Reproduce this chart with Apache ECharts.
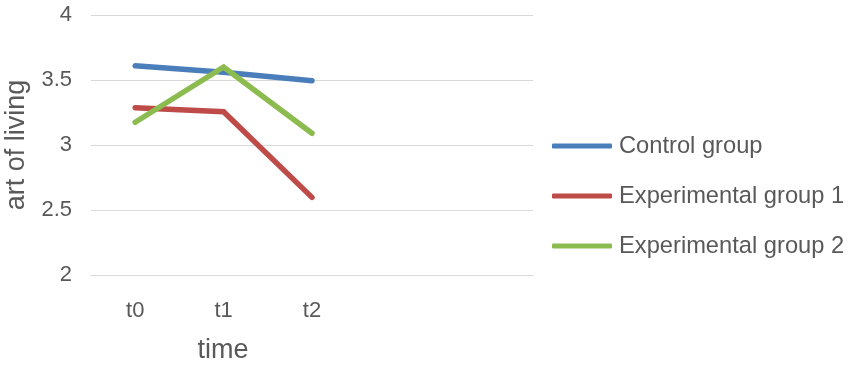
<!DOCTYPE html>
<html>
<head>
<meta charset="utf-8">
<script src="https://cdn.jsdelivr.net/npm/echarts@6/dist/echarts.min.js"></script>
<style>html,body{margin:0;padding:0;background:#fff}#c{width:854px;height:371px}</style>
</head>
<body>
<div id="c"></div>
<script>
var categories = ['t0', 't1', 't2', '', ''];
var controlGroup = [3.61, 3.56, 3.495];
var experimentalGroup1 = [3.287, 3.256, 2.597];
var experimentalGroup2 = [3.175, 3.60, 3.09];
var seriesNames = ['Control group', 'Experimental group 1', 'Experimental group 2'];
var yTicks = [2, 2.5, 3, 3.5, 4];

var chart = echarts.init(document.getElementById('c'));
var font = 'Liberation Sans, Arial, sans-serif';
var txt = '#595959';
function mk(name, data, color) {
  return {
    name: name, type: 'line', data: data, symbol: 'none', smooth: false,
    lineStyle: { width: 5.5, color: color, cap: 'round', join: 'miter' },
    itemStyle: { color: color }
  };
}
chart.setOption({
  animation: false,
  grid: { left: 91, right: 321, top: 15, bottom: 96, containLabel: false, outerBoundsMode: 'none' },
  xAxis: {
    type: 'category', data: categories, boundaryGap: true,
    axisLine: { show: true, lineStyle: { color: '#d9d9d9', width: 1 } },
    axisTick: { show: false },
    axisLabel: { color: txt, fontSize: 22, fontFamily: font, margin: 25 }
  },
  yAxis: {
    type: 'value', min: yTicks[0], max: yTicks[yTicks.length - 1], interval: 0.5,
    axisLine: { show: false }, axisTick: { show: false },
    splitLine: { lineStyle: { color: '#d9d9d9', width: 1 } },
    axisLabel: { color: txt, fontSize: 22, fontFamily: font, margin: 19,
      formatter: function (v) { return String(v); } },
    name: 'art of living', nameLocation: 'middle', nameGap: 55, nameRotate: 90,
    nameTextStyle: { color: txt, fontSize: 27, fontFamily: font }
  },
  legend: {
    orient: 'vertical', left: 552, top: 133, padding: 0,
    itemWidth: 60, itemHeight: 5, itemGap: 24, icon: 'roundRect',
    textStyle: { color: txt, fontSize: 23.7, fontFamily: font, lineHeight: 26, padding: [0, 0, 0, 2] },
    data: seriesNames
  },
  graphic: [{
    type: 'text', x: 223, y: 351,
    style: { text: 'time', textAlign: 'center', textVerticalAlign: 'middle',
      fill: txt, fontSize: 27, fontFamily: font }
  }],
  series: [
    mk(seriesNames[0], controlGroup, '#4a7ebb'),
    mk(seriesNames[1], experimentalGroup1, '#be4b48'),
    mk(seriesNames[2], experimentalGroup2, '#8cbb50')
  ]
});
</script>
</body>
</html>
